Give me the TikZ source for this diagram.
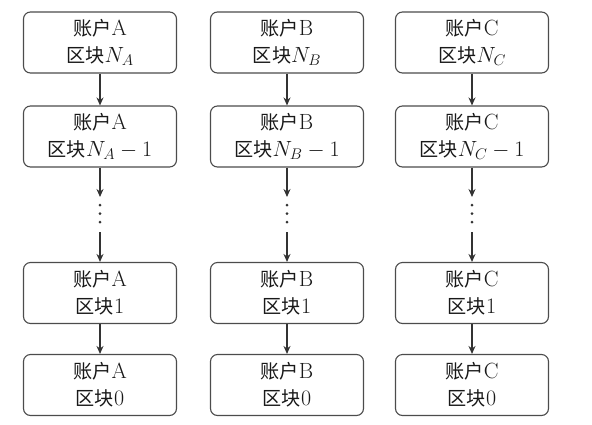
\RequirePackage{fix-cm}
\documentclass[tikz,border=0pt]{standalone}
\usepackage{fontspec}
\newfontfamily\cjk[Scale=0.87]{Noto Sans CJK SC}
\usetikzlibrary{arrows.meta}
\begin{document}
\begin{tikzpicture}[x=1pt,y=-1pt,
  blk/.style={draw=black!70, line width=1.1pt, rounded corners=7pt, minimum width=153pt, minimum height=61pt,
    align=center, inner sep=0pt, text=black!90, font=\fontsize{22}{27}\selectfont, fill=white},
  link/.style={draw=black!80, line width=1.2pt, -{Stealth[length=8pt,width=7pt]}},
  dot/.style={circle, fill=black!80, inner sep=0pt, minimum size=3pt}]
\useasboundingbox (0,0) rectangle (592,424);
\foreach \c/\x in {A/100,B/287,C/472}{
  \node[blk] (\c1) at (\x,42.5) {{\cjk 账户}\c\\{\cjk 区块}$N_\c$};
  \node[blk] (\c2) at (\x,136.5) {{\cjk 账户}\c\\{\cjk 区块}$N_\c-1$};
  \node[blk] (\c3) at (\x,293) {{\cjk 账户}\c\\{\cjk 区块}1};
  \node[blk] (\c4) at (\x,385) {{\cjk 账户}\c\\{\cjk 区块}0};
  \coordinate (\c t) at (\x,197);
  \coordinate (\c b) at (\x,232);
  \node[dot] (\c d1) at (\x,205) {};
  \node[dot] (\c d2) at (\x,213.5) {};
  \node[dot] (\c d3) at (\x,222) {};
  \draw[link] (\c1) -- (\c2);
  \draw[link] (\c2) -- (\c t);
  \draw[link] (\c b) -- (\c3);
  \draw[link] (\c3) -- (\c4);
}
\end{tikzpicture}
\end{document}
